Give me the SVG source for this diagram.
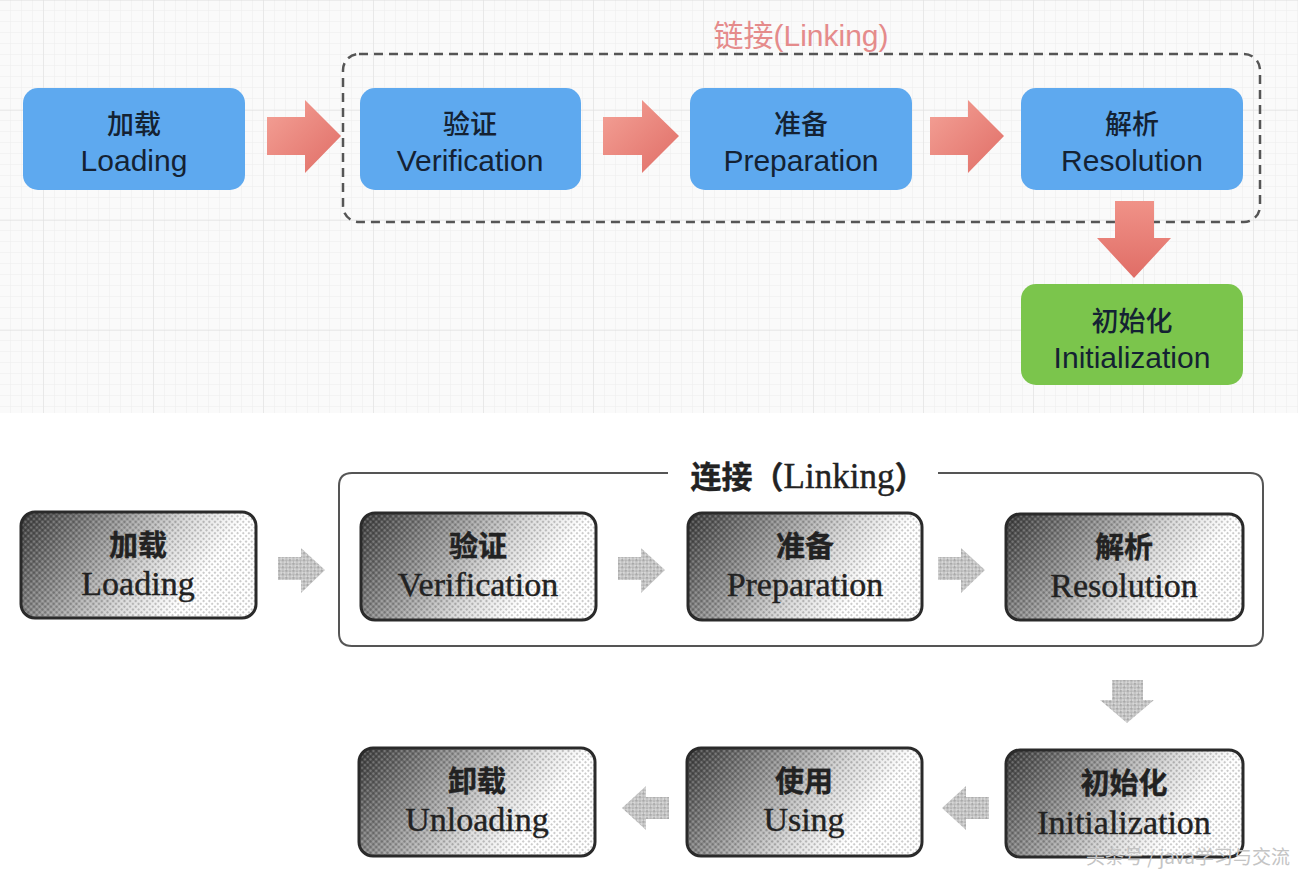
<svg xmlns="http://www.w3.org/2000/svg" width="1308" height="870" viewBox="0 0 1308 870">
<defs>
<pattern id="gridMinor" width="11" height="11" patternUnits="userSpaceOnUse">
<path d="M11 0V11M0 11H11" fill="none" stroke="#ececec" stroke-width="1"/>
</pattern>
<pattern id="gridMajor" width="110" height="110" patternUnits="userSpaceOnUse" x="43" y="0">
<path d="M0 0V110M0 0H110" fill="none" stroke="#dedede" stroke-width="1"/>
</pattern>
<linearGradient id="salmon" x1="0" y1="0" x2="1" y2="1">
<stop offset="0" stop-color="#f4a297"/>
<stop offset="1" stop-color="#e06d66"/>
</linearGradient>
<linearGradient id="salmonV" x1="0" y1="0" x2="0" y2="1">
<stop offset="0" stop-color="#f09288"/>
<stop offset="1" stop-color="#e06d66"/>
</linearGradient>
<linearGradient id="metal" x1="0" y1="0" x2="1" y2="0.35">
<stop offset="0" stop-color="#3a3a3a"/>
<stop offset="0.32" stop-color="#858585"/>
<stop offset="0.65" stop-color="#d6d6d6"/>
<stop offset="0.88" stop-color="#ffffff"/>
<stop offset="1" stop-color="#ffffff"/>
</linearGradient>
<pattern id="tex" width="4" height="4" patternUnits="userSpaceOnUse" patternTransform="rotate(45)">
<rect width="2" height="2" fill="#000" opacity="0.2"/>
<rect x="2" y="2" width="2" height="2" fill="#fff" opacity="0.2"/>
</pattern>
<pattern id="arrowTex" width="5" height="5" patternUnits="userSpaceOnUse" patternTransform="rotate(45)">
<rect width="5" height="5" fill="#d0d0d0"/>
<rect width="2.5" height="2.5" fill="#9a9a9a"/>
<rect x="2.5" y="2.5" width="2.5" height="2.5" fill="#a8a8a8"/>
</pattern>
</defs>
<style>
.top-box{stroke:none}
.blue{fill:#5ea9ef}
.green{fill:#7bc54c}
.ttext{font-family:"Liberation Sans","Noto Sans CJK SC",sans-serif;fill:#142233;text-anchor:middle}
.tcjk{font-family:"Noto Sans CJK SC",sans-serif;font-size:27px;font-weight:500}
.tlat{font-size:30px}
.btext{font-family:"Liberation Serif","Noto Sans CJK SC",serif;fill:#222;text-anchor:middle;stroke:#222;stroke-width:0.4}
.bcjk{font-family:"Noto Sans CJK SC",sans-serif;font-size:29px;font-weight:bold}
.blat{font-size:34px}
.bbox{fill:url(#metal);stroke:none}
.bbox-tex{fill:url(#tex);stroke:#2a2a2a;stroke-width:3}
.tarrow{fill:url(#salmon)}
.barrow{fill:url(#arrowTex);opacity:0.85}
</style>

<!-- top panel background -->
<rect x="0" y="0" width="1298" height="413" fill="#fafafa"/>
<rect x="0" y="0" width="1298" height="413" fill="url(#gridMinor)"/>
<rect x="0" y="0" width="1298" height="413" fill="url(#gridMajor)"/>

<!-- top linking group frame -->
<g id="top-linking">
<rect x="343" y="54" width="917" height="168" rx="16" fill="none" stroke="#555" stroke-width="2.5" stroke-dasharray="9,6"/>
<text x="801" y="46" font-family="Liberation Sans,Noto Sans CJK SC,sans-serif" font-size="30" fill="#e58b8b" text-anchor="middle">链接(Linking)</text>
</g>

<g id="top-loading">
<rect class="top-box blue" x="23" y="88" width="222" height="102" rx="15"/>
<text class="ttext tcjk" x="134" y="134">加载</text>
<text class="ttext tlat" x="134" y="171">Loading</text>
</g>
<g id="top-verification">
<rect class="top-box blue" x="360" y="88" width="221" height="102" rx="15"/>
<text class="ttext tcjk" x="470" y="134">验证</text>
<text class="ttext tlat" x="470" y="171">Verification</text>
</g>
<g id="top-preparation">
<rect class="top-box blue" x="690" y="88" width="222" height="102" rx="15"/>
<text class="ttext tcjk" x="801" y="134">准备</text>
<text class="ttext tlat" x="801" y="171">Preparation</text>
</g>
<g id="top-resolution">
<rect class="top-box blue" x="1021" y="88" width="222" height="102" rx="15"/>
<text class="ttext tcjk" x="1132" y="134">解析</text>
<text class="ttext tlat" x="1132" y="171">Resolution</text>
</g>
<g id="top-initialization">
<rect class="top-box green" x="1021" y="284" width="222" height="101" rx="15"/>
<text class="ttext tcjk" x="1132" y="331">初始化</text>
<text class="ttext tlat" x="1132" y="368">Initialization</text>
</g>

<!-- bottom linking group frame -->
<g id="bottom-linking">
<path d="M668 473 H352 Q339 473 339 486 V633 Q339 646 352 646 H1250 Q1263 646 1263 633 V486 Q1263 473 1250 473 H938" fill="none" stroke="#555" stroke-width="2"/>
<text class="btext" x="808" y="488" font-size="35"><tspan font-family="Noto Sans CJK SC,sans-serif" font-weight="bold" font-size="31">连接（</tspan>Linking<tspan font-family="Noto Sans CJK SC,sans-serif" font-weight="bold" font-size="31">）</tspan></text>
</g>

<g id="bottom-loading">
<rect class="bbox" x="21" y="512" width="235" height="106" rx="14"/>
<rect class="bbox-tex" x="21" y="512" width="235" height="106" rx="14"/>
<text class="btext bcjk" x="138" y="556">加载</text>
<text class="btext blat" x="138" y="595">Loading</text>
</g>
<g id="bottom-verification">
<rect class="bbox" x="361" y="513" width="235" height="107" rx="14"/>
<rect class="bbox-tex" x="361" y="513" width="235" height="107" rx="14"/>
<text class="btext bcjk" x="478" y="557">验证</text>
<text class="btext blat" x="478" y="596">Verification</text>
</g>
<g id="bottom-preparation">
<rect class="bbox" x="688" y="513" width="234" height="107" rx="14"/>
<rect class="bbox-tex" x="688" y="513" width="234" height="107" rx="14"/>
<text class="btext bcjk" x="805" y="557">准备</text>
<text class="btext blat" x="805" y="596">Preparation</text>
</g>
<g id="bottom-resolution">
<rect class="bbox" x="1006" y="514" width="237" height="106" rx="14"/>
<rect class="bbox-tex" x="1006" y="514" width="237" height="106" rx="14"/>
<text class="btext bcjk" x="1124" y="558">解析</text>
<text class="btext blat" x="1124" y="597">Resolution</text>
</g>
<g id="bottom-initialization">
<rect class="bbox" x="1006" y="750" width="237" height="107" rx="14"/>
<rect class="bbox-tex" x="1006" y="750" width="237" height="107" rx="14"/>
<text class="btext bcjk" x="1124" y="794">初始化</text>
<text class="btext blat" x="1124" y="834">Initialization</text>
</g>
<g id="bottom-using">
<rect class="bbox" x="687" y="748" width="235" height="108" rx="14"/>
<rect class="bbox-tex" x="687" y="748" width="235" height="108" rx="14"/>
<text class="btext bcjk" x="804" y="792">使用</text>
<text class="btext blat" x="804" y="831">Using</text>
</g>
<g id="bottom-unloading">
<rect class="bbox" x="359" y="748" width="236" height="108" rx="14"/>
<rect class="bbox-tex" x="359" y="748" width="236" height="108" rx="14"/>
<text class="btext bcjk" x="477" y="792">卸载</text>
<text class="btext blat" x="477" y="831">Unloading</text>
</g>

<!-- connectors -->
<g id="connectors">
<path class="tarrow" d="M267 117 H305 V100 L341 136 L305 173 V155 H267 Z"/>
<path class="tarrow" d="M603 117 H642 V100 L679 136 L642 173 V155 H603 Z"/>
<path class="tarrow" d="M930 117 H968 V100 L1004 136 L968 173 V155 H930 Z"/>
<path fill="url(#salmonV)" d="M1115 201 H1154 V238 H1171 L1134 278 L1097 238 H1115 Z"/>

<path class="barrow" d="M278 557 H301 V548 L325 570 L301 593 V580 H278 Z"/>
<path class="barrow" d="M618 557 H641 V548 L665 570 L641 593 V580 H618 Z"/>
<path class="barrow" d="M938 557 H961 V548 L985 570 L961 593 V580 H938 Z"/>
<path class="barrow" d="M1112 680 H1143 V700 H1154 L1127 723 L1100 700 H1112 Z"/>
<path class="barrow" d="M989 797 H966 V786 L942 808 L966 830 V819 H989 Z"/>
<path class="barrow" d="M669 797 H646 V786 L622 808 L646 830 V819 H669 Z"/>
</g>

<text x="1188" y="864" font-family="Noto Sans CJK SC,sans-serif" font-size="19" fill="#c4c4c4" text-anchor="middle">头条号 / java学习与交流</text>
</svg>
